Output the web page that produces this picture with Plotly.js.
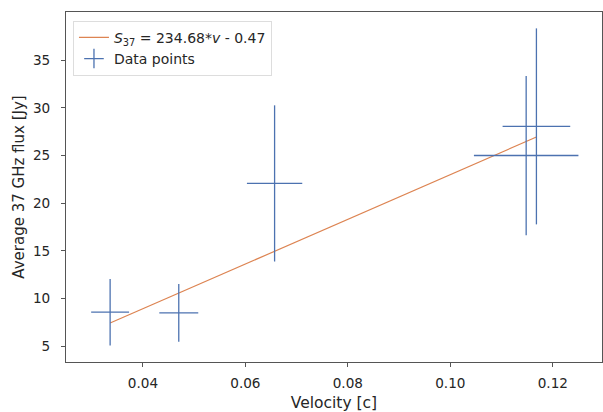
<!DOCTYPE html>
<html>
<head>
<meta charset="utf-8">
<script src="https://cdn.plot.ly/plotly-3.0.1.min.js"></script>
<style>html,body{margin:0;padding:0;background:#fff;}#chart{width:603px;height:412px;}</style>
</head>
<body>
<div id="chart"></div>
<script>
// Data
const velocity = [0.0336, 0.0470, 0.0657, 0.1148, 0.1168];
const velocityErr = [0.0037, 0.0038, 0.0054, 0.0102, 0.0066];
const flux = [8.55, 8.47, 22.07, 25.0, 28.06];
const fluxErr = [3.49, 3.03, 8.2, 8.36, 10.29];
// Fit line endpoints (S37 = 234.68*v - 0.47)
const fitX = [0.0336, 0.1168];
const fitY = [7.41, 26.94];
const fitLabel = '<i>S</i><sub>37</sub> = 234.68*<i>v</i> - 0.47';
const xTickVals = [0.04, 0.06, 0.08, 0.10, 0.12];
const xTickText = ['0.04', '0.06', '0.08', '0.10', '0.12'];
const yTickVals = [5, 10, 15, 20, 25, 30, 35];

const blue = '#4C72B0';
const orange = '#DD8452';

const traces = [
  {
    x: fitX, y: fitY, type: 'scatter', mode: 'lines',
    line: {color: orange, width: 1.2},
    name: fitLabel, showlegend: true
  },
  {
    x: velocity, y: flux, type: 'scatter', mode: 'markers',
    marker: {size: 1, opacity: 0, color: blue},
    error_x: {type: 'data', array: velocityErr, symmetric: true, color: blue, thickness: 1.3, width: 0},
    error_y: {type: 'data', array: fluxErr, symmetric: true, color: blue, thickness: 1.3, width: 0},
    showlegend: false, hoverinfo: 'skip'
  },
  {
    x: [null], y: [null], type: 'scatter', mode: 'markers',
    marker: {symbol: 'cross-thin', size: 14, color: blue, line: {color: blue, width: 1.3}},
    name: 'Data points', showlegend: true
  }
];

const axisCommon = {
  showline: true, mirror: true, linecolor: '#555', linewidth: 1,
  ticks: 'outside', ticklen: 4, tickwidth: 1, tickcolor: '#555',
  showgrid: false, zeroline: false,
  tickfont: {family: 'DejaVu Sans', size: 13.6, color: '#262626'}
};

const layout = {
  width: 603, height: 412,
  margin: {l: 66, r: 1, t: 12, b: 50},
  paper_bgcolor: '#fff', plot_bgcolor: '#fff',
  font: {family: 'DejaVu Sans', color: '#262626'},
  xaxis: Object.assign({}, axisCommon, {
    range: [0.02499, 0.1296],
    tickvals: xTickVals,
    ticktext: xTickText,
    ticklabelstandoff: 5,
    title: {text: 'Velocity [c]', font: {family: 'DejaVu Sans', size: 15.5, color: '#262626'}, standoff: 6}
  }),
  yaxis: Object.assign({}, axisCommon, {
    range: [3.32, 40.07],
    tickvals: yTickVals,
    ticklabelstandoff: 8,
    title: {text: 'Average 37 GHz flux [Jy]', font: {family: 'DejaVu Sans', size: 15, color: '#262626'}, standoff: 4}
  }),
  legend: {
    x: 0.013, y: 0.975, xanchor: 'left', yanchor: 'top',
    bgcolor: 'rgba(255,255,255,0.8)', bordercolor: '#dddddd', borderwidth: 1,
    font: {family: 'DejaVu Sans', size: 14, color: '#262626'},
    tracegroupgap: 0
  },
  showlegend: true
};

Plotly.newPlot('chart', traces, layout, {displayModeBar: false, staticPlot: true});
</script>
</body>
</html>
